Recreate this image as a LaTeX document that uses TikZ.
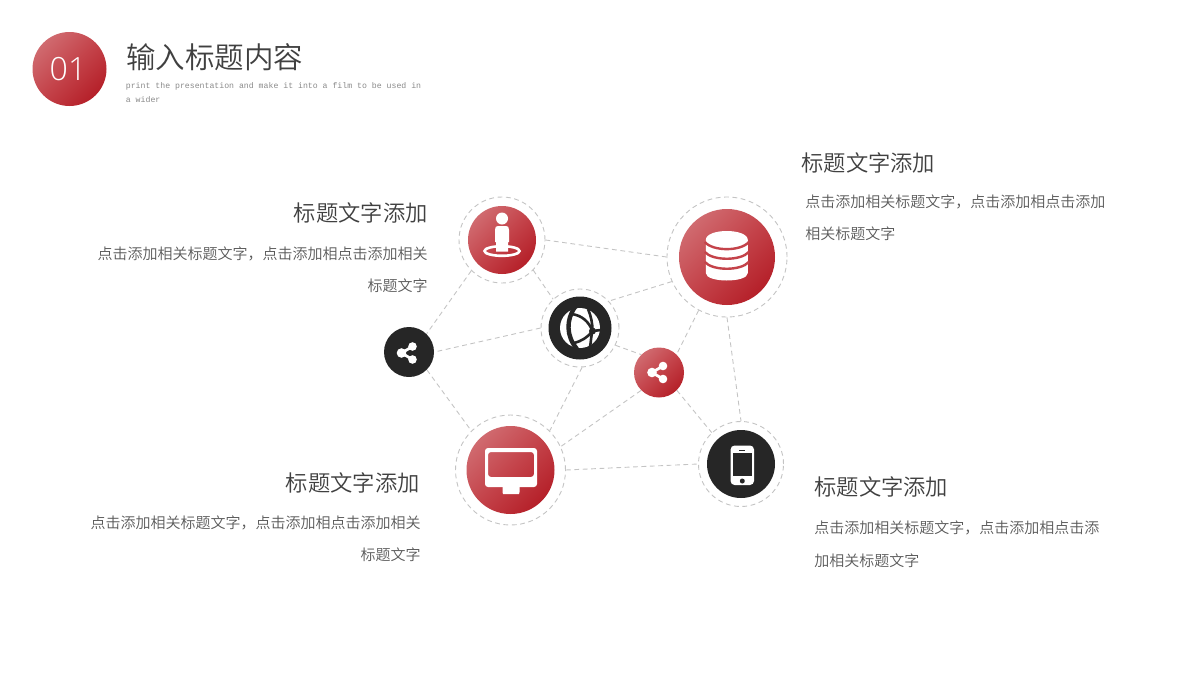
\documentclass[tikz,border=0pt]{standalone}
\usepackage{fontspec}
\setmainfont{Noto Sans CJK SC DemiLight}
\newfontfamily\latinfont{Open Sans Light}
\newfontfamily\monofont{Liberation Mono}
\definecolor{hd}{HTML}{404040}
\definecolor{bd}{HTML}{595959}
\definecolor{sb}{HTML}{8A8A8A}
\definecolor{dk}{HTML}{262626}
\definecolor{dash}{HTML}{C4C4C4}
\definecolor{rl}{HTML}{D06A6F}
\definecolor{rd}{HTML}{B52029}
\definecolor{rm}{HTML}{C4434A}
\tikzset{
 x=0.5pt,y=-0.5pt,
 ringnode/.style={circle,draw=dash,dashed,dash pattern=on 2.4pt off 1.8pt,line width=0.45pt,inner sep=0pt,minimum size=#1*1pt,fill=white},
 rednode/.style={circle,inner sep=0pt,minimum size=#1*1pt,top color=rl,bottom color=rd,middle color=rm,shading angle=45},
 darknode/.style={circle,inner sep=0pt,minimum size=#1*1pt,fill=dk},
 link/.style={draw=dash,dashed,dash pattern=on 2.4pt off 1.8pt,line width=0.45pt},
 headtxt/.style={inner sep=0pt,text=hd,font=\fontsize{11.15}{14}\selectfont},
 bodytxt/.style={inner sep=0pt,text=bd,font=\fontsize{7.5}{16.25}\selectfont},
 icon/.style={fill=white,draw=none},
}
\begin{document}
\begin{tikzpicture}
\useasboundingbox (0,0) rectangle (1200,675);
% rings
\node[ringnode=43] (rP) at (502,240) {};
\node[ringnode=60] (rD) at (727,257) {};
\node[ringnode=39] (rG) at (580,328) {};
\node[ringnode=55] (rM) at (510.5,470) {};
\node[ringnode=42.5] (rT) at (741,464) {};
\node[darknode=25] (sL) at (409,352) {};
\node[rednode=25] (sR) at (659,372.5) {};
% links
\path[link] (rP.225) -- (sL.46);
\path[link] (rP.-44) -- (rG.133.6);
\path[link] (rP.0) -- (rD.180);
\path[link] (rD.204.7) -- (rG.43.7);
\path[link] (rD.242) -- (sR.46);
\path[link] (rD.270) -- (rT.90);
\path[link] (rG.180) -- (sL.0);
\path[link] (rG.-26) -- (sR.135);
\path[link] (rG.-87) -- (rM.45);
\path[link] (sL.-45) -- (rM.135);
\path[link] (sR.225) -- (rM.25.6);
\path[link] (sR.-45) -- (rT.133.6);
\path[link] (rM.0) -- (rT.180);
% discs
\node[rednode=34] (cP) at (502,240) {};
\node[rednode=48] (cD) at (727,257) {};
\node[darknode=31.5] (cG) at (580,328) {};
\node[rednode=44] (cM) at (510.5,470) {};
\node[darknode=34] (cT) at (741,464) {};
\node[rednode=37] (c1) at (69.5,69) {};
\node[text=white,font=\latinfont\fontsize{16}{18}\selectfont,inner sep=0pt] (n1) at (68,69.5) {01};
% person icon
\begin{scope}[shift={(502,240)}]
 \fill[icon] (0,-21.5) circle (6);
 \fill[icon] (-7,-10) .. controls (-7,-13) and (-6,-14) .. (-4,-14) -- (4,-14) .. controls (6,-14) and (7,-13) .. (7,-10) -- (7,2) -- (6,2) -- (6,11.5) -- (-6,11.5) -- (-6,2) -- (-7,2) -- cycle;
 \draw[white,line width=1.3pt] (0,11) ellipse (17.5 and 4.8);
\end{scope}
% database icon
\begin{scope}[shift={(726.8,257)}]
 \fill[icon] (-21,-17) .. controls (-21,-29) and (21,-29) .. (21,-17) -- (21,16) .. controls (21,26) and (-21,26) .. (-21,16) -- cycle;
 \draw[rm,line width=1.2pt] (-22,-15) .. controls (-14,-5.5) and (14,-5.5) .. (22,-15);
 \draw[rm,line width=1.2pt] (-22,-5) .. controls (-14,4) and (14,4) .. (22,-5);
 \draw[rm,line width=1.2pt] (-22,5) .. controls (-14,14) and (14,14) .. (22,5);
\end{scope}
% globe icon
\begin{scope}[shift={(580,328)}]
 \fill[icon] (0,0) circle (20);
 \draw[dk,line width=2.2pt] (-5,-21) .. controls (-14,-8) and (-14,8) .. (-3,21);
 \draw[dk,line width=1.3pt] (-9,-14) .. controls (2,-13) and (9,-6) .. (12.5,3);
 \draw[dk,line width=1.3pt] (8,-19) .. controls (11,-12) and (12.5,-5) .. (12.5,3) .. controls (11,8) and (11,14) .. (10,19);
 \draw[dk,line width=1.3pt] (12.5,3) .. controls (8,9) and (2,13) .. (-6,15);
 \draw[dk,line width=1.3pt] (12.5,3) -- (21,2);
 \fill[dk] (12.5,3) circle (3.5);
\end{scope}
% monitor icon
\begin{scope}[shift={(511,470)}]
 \fill[icon,even odd rule,rounded corners=1.5pt] (-26,-22) rectangle (26,17) (-23,-18) rectangle (23,7);
 \fill[icon] (-8.5,17) rectangle (8.5,22) -- (8,24) -- (-8,24) -- (-8.5,22) -- cycle;
\end{scope}
% phone icon
\begin{scope}[shift={(742.3,464)}]
 \fill[icon,rounded corners=2pt] (-11.7,-18.5) rectangle (11.7,21);
 \fill[dk] (-9.3,-11) rectangle (9.3,11.7);
 \fill[dk] (0,17) circle (2.5);
 \fill[dk] (-3,-14.5) rectangle (3,-13.5);
\end{scope}
% share icons
\foreach \cx/\cy in {407/353,657.5/372.5}{
 \begin{scope}[shift={(\cx,\cy)}]
  \draw[white,line width=1.4pt] (5.5,-6.5) -- (-5.5,0) -- (5.5,6.5);
  \fill[icon] (5.5,-6.5) circle (4.3);
  \fill[icon] (5.5,6.5) circle (4.3);
  \fill[icon] (-5.5,0) circle (4.8);
 \end{scope}
}
% texts
\node[inner sep=0pt,anchor=west,text=hd,font=\fontsize{14.75}{18}\selectfont] (ttl) at (126,57) {输入标题内容};
\node[inner sep=0pt,anchor=north west,text=sb,align=left,font=\monofont\fontsize{4.1}{7}\selectfont] (sub) at (125.5,82.5) {print the presentation and make it into a film to be used in\\a wider};
\node[headtxt,anchor=east] (h1) at (428,213) {标题文字添加};
\node[bodytxt,anchor=north east,align=right] (b1) at (428,246) {点击添加相关标题文字，点击添加相点击添加相关\\标题文字};
\node[headtxt,anchor=west] (h2) at (801,163) {标题文字添加};
\node[bodytxt,anchor=north west,align=left] (b2) at (805,194) {点击添加相关标题文字，点击添加相点击添加\\相关标题文字};
\node[headtxt,anchor=east] (h3) at (420,482.5) {标题文字添加};
\node[bodytxt,anchor=north east,align=right] (b3) at (421,515) {点击添加相关标题文字，点击添加相点击添加相关\\标题文字};
\node[headtxt,anchor=west] (h4) at (814,487) {标题文字添加};
\node[bodytxt,anchor=north west,align=left] (b4) at (814,520.5) {点击添加相关标题文字，点击添加相点击添\\加相关标题文字};
\end{tikzpicture}
\end{document}
